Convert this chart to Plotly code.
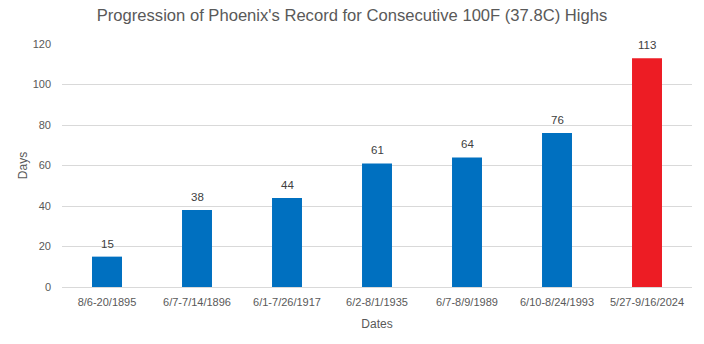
import plotly.graph_objects as go

categories = ["8/6-20/1895", "6/7-7/14/1896", "6/1-7/26/1917", "6/2-8/1/1935",
              "6/7-8/9/1989", "6/10-8/24/1993", "5/27-9/16/2024"]
days = [15, 38, 44, 61, 64, 76, 113]
colors = ["#0070C0"] * 6 + ["#ED1C24"]
y_ticks = [0, 20, 40, 60, 80, 100, 120]

fig = go.Figure(go.Bar(
    x=categories, y=days, marker_color=colors, marker_line_width=0,
    cliponaxis=False,
))
for c, d in zip(categories, days):
    fig.add_annotation(x=c, y=d, text=str(d), showarrow=False, yanchor="bottom",
                       yshift=5, font=dict(size=11.5, color="#404040"))
fig.update_layout(
    width=704, height=344,
    margin=dict(l=62, r=12, t=44, b=57),
    paper_bgcolor="white", plot_bgcolor="white",
    bargap=0.667,
    title=dict(text="Progression of Phoenix's Record for Consecutive 100F (37.8C) Highs",
               x=0.5, xanchor="center", y=0.955, yanchor="middle",
               font=dict(size=16.6, color="#595959")),
    font=dict(family="Liberation Sans, Arial, sans-serif", color="#595959", size=11),
    showlegend=False,
)
fig.update_xaxes(title=dict(text="Dates", standoff=12, font=dict(size=12, color="#595959")),
                 showline=True, linecolor="#D9D9D9", ticks="", ticklabelstandoff=5,
                 tickfont=dict(size=11, color="#595959"))
fig.update_yaxes(title=dict(text="Days", standoff=2, font=dict(size=12, color="#595959")),
                 range=[0, 120], tickvals=y_ticks, gridcolor="#D9D9D9", zeroline=False,
                 showline=False, ticks="", tickfont=dict(size=11, color="#595959"), ticklabelstandoff=10)
fig.write_html("out.html")
